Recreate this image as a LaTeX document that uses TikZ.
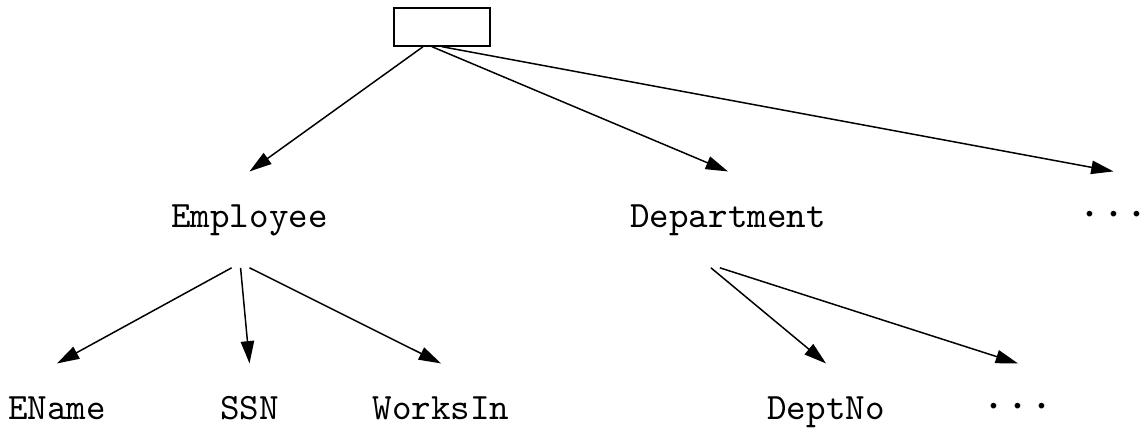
\documentclass[tikz,border=0pt]{standalone}
\usetikzlibrary{arrows.meta}
\tikzset{
  lbl/.style={font=\ttfamily, inner sep=0pt, anchor=base,
    text height=15pt, text depth=10.5pt},
  more/.style={lbl, font=\Large},
}
\begin{document}
\begin{tikzpicture}[x=0.2688pt,y=-0.2688pt]
  \useasboundingbox (0,0) rectangle (1141,429);
  \node (root) [draw, inner sep=0pt, minimum width=25.8pt,
    minimum height=10.2pt] at (442,27) {};
  % first level
  \node (emp) [lbl] at (249.5,228) {Employee};
  \node (dept) [lbl] at (728,228) {Department};
  \node (more1) [more] at (1113.5,228) {$\cdots$};
  % second level
  \node (ename) [lbl] at (57,420) {EName};
  \node (ssn) [lbl] at (249.5,420) {SSN};
  \node (works) [lbl] at (441,420) {WorksIn};
  \node (deptno) [lbl] at (826,420) {DeptNo};
  \node (more2) [more] at (1018,420) {$\cdots$};
  \path[-{Triangle[length=6pt,width=3.6pt]}]
    ([xshift=-5.1pt]root.south) edge (emp.north)
    ([xshift=-2.7pt]root.south) edge (dept.north)
    (root.south) edge (more1.north)
    ([xshift=-4.8pt]emp.south) edge (ename.north)
    ([xshift=-2.4pt]emp.south) edge (ssn.north)
    (emp.south) edge (works.north)
    ([xshift=-4.6pt]dept.south) edge (deptno.north)
    ([xshift=-2.2pt]dept.south) edge (more2.north);
\end{tikzpicture}
\end{document}
